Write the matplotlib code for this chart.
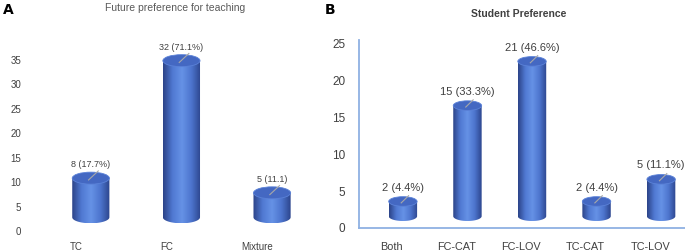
import numpy as np
import matplotlib
matplotlib.use("Agg")
import matplotlib.pyplot as plt
from matplotlib.colors import LinearSegmentedColormap
from matplotlib.patches import Ellipse, Polygon

# panel A data
teach_cats = ['TC', 'FC', 'Mixture']
teach_vals = [8, 32, 5]
teach_labels = ['8 (17.7%)', '32 (71.1%)', '5 (11.1)']

# panel B data
pref_cats = ['Both', 'FC-CAT', 'FC-LOV', 'TC-CAT', 'TC-LOV']
pref_vals = [2, 15, 21, 2, 5]
pref_labels = ['2 (4.4%)', '15 (33.3%)', '21 (46.6%)', '2 (4.4%)', '5 (11.1%)']

plt.rcParams['font.family'] = ['Liberation Sans', 'DejaVu Sans']

shade = LinearSegmentedColormap.from_list(
    'cyl', ['#2c4489', '#5079d2', '#6692e6', '#4d75ce', '#2d468e'])
txt = '#404040'


def cylinder(ax, x, h, w, eh, base, gap, label, fs):
    # body from base to base+h, with a rounded bottom and an elliptic top
    y0, y1 = base, base + h
    t = np.linspace(0, np.pi, 50)
    bx = x - w / 2 * np.cos(t)
    by = y0 - eh / 2 * np.sin(t)
    verts = [(x - w / 2, y1)] + list(zip(bx, by)) + [(x + w / 2, y1)]
    body = Polygon(verts, closed=True, facecolor='none', edgecolor='none')
    ax.add_patch(body)
    grad = np.linspace(0, 1, 80).reshape(1, -1)
    im = ax.imshow(grad, cmap=shade, extent=(x - w / 2, x + w / 2, y0 - eh / 2, y1),
                   aspect='auto', zorder=2, interpolation='bilinear')
    im.set_clip_path(body)
    ax.add_patch(Ellipse((x, y1), w, eh, facecolor='#4468c2', edgecolor='#5b82d8',
                         lw=0.6, zorder=3))
    ax.plot([x - 0.06 * w, x + 0.2 * w], [y1 - 0.15 * eh, y1 + 0.6 * eh],
            color='#a8a8a8', lw=0.8, zorder=4)
    ax.text(x, y1 + eh / 2 + gap, label, ha='center', va='bottom',
            fontsize=fs, color=txt, zorder=5)


fig = plt.figure(figsize=(6.85, 2.52), dpi=100)

# ---- A ----
axA = fig.add_axes([31 / 685, 21 / 252, 290 / 685, 186 / 252])
xa = np.arange(len(teach_cats))
for i, v in enumerate(teach_vals):
    cylinder(axA, xa[i] + 0.16, v, 0.41, 2.45, 2.8, 0.6, teach_labels[i], 6.5)
axA.set_xlim(-0.5, 2.7)
axA.set_ylim(0, 38)
axA.set_yticks(np.arange(0, 36, 5))
axA.set_xticks(xa)
axA.set_xticklabels(teach_cats)
axA.tick_params(axis='both', length=0, labelsize=7, colors=txt)
axA.tick_params(axis='y', pad=7)
axA.tick_params(axis='x', pad=8)
for s in axA.spines.values():
    s.set_visible(False)
axA.set_facecolor('none')
fig.text(175 / 685, 1 - 8 / 252, 'Future preference for teaching', ha='center', va='center',
         fontsize=7.5, color='#595959')
fig.text(3 / 685, 1 - 10 / 252, 'A', ha='left', va='center', fontsize=10,
         fontweight='bold', family='DejaVu Sans', color='black')

# ---- B ----
axB = fig.add_axes([359 / 685, 24 / 252, 326 / 685, 188 / 252])
xb = np.arange(len(pref_cats))
for i, v in enumerate(pref_vals):
    cylinder(axB, xb[i] + 0.17, v, 0.44, 1.3, 1.6, 0.55, pref_labels[i], 8)
axB.set_xlim(-0.51, 4.54)
axB.set_ylim(0, 25.5)
axB.set_yticks(np.arange(0, 26, 5))
axB.set_xticks(xb)
axB.set_xticklabels(pref_cats)
axB.tick_params(axis='both', length=0, labelsize=8.5, colors=txt)
axB.tick_params(axis='x', labelsize=7.8, pad=10)
axB.tick_params(axis='y', pad=10)
for k in ['top', 'right']:
    axB.spines[k].set_visible(False)
for k in ['left', 'bottom']:
    axB.spines[k].set_color('#8fb1e3')
    axB.spines[k].set_linewidth(1.3)
axB.set_facecolor('none')
fig.text(519 / 685, 1 - 14 / 252, 'Student Preference', ha='center', va='center',
         fontsize=7.5, color='#404040', fontweight='semibold')
fig.text(325 / 685, 1 - 10 / 252, 'B', ha='left', va='center', fontsize=10,
         fontweight='bold', family='DejaVu Sans', color='black')

fig.savefig('out.png', dpi=100)
